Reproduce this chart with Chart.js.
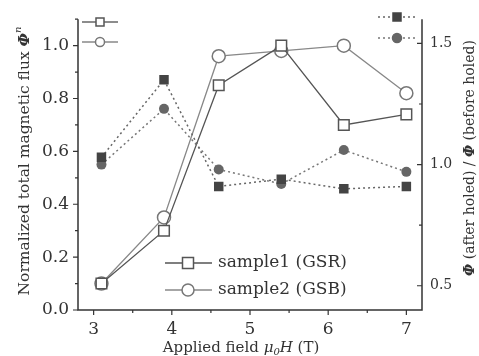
<!DOCTYPE html>
<html>
<head>
<meta charset="utf-8">
<script src="https://cdn.jsdelivr.net/npm/chart.js@4/dist/chart.umd.min.js"></script>
<style>
  body { margin: 0; background: #fff; }
  canvas { display: block; }
</style>
</head>
<body>
<canvas id="flux" width="479" height="356"></canvas>
<script>
// applied field (T)
const fields = [3.1, 3.9, 4.6, 5.4, 6.2, 7.0];
// normalized total flux (left axis)
const gsrFlux = [0.10, 0.30, 0.85, 1.00, 0.70, 0.74];
const gsbFlux = [0.10, 0.35, 0.96, 0.98, 1.00, 0.82];
// ratio after / before holed (right axis)
const gsrRatio = [1.03, 1.35, 0.91, 0.94, 0.90, 0.91];
const gsbRatio = [1.00, 1.23, 0.98, 0.92, 1.06, 0.97];

const xTicks = [3, 4, 5, 6, 7];
const leftTicks = [0, 0.2, 0.4, 0.6, 0.8, 1.0];
const rightTicks = [0.5, 1.0, 1.5];

const SERIF = "'DejaVu Serif', serif";
const AXIS = "#333";

const pts = (ys) => ys.map((y, i) => ({ x: fields[i], y }));

// draw text made of several runs (font, text, dy)
function drawRuns(ctx, runs, x, y, rot) {
  ctx.save();
  ctx.translate(x, y);
  ctx.rotate(rot);
  let total = 0;
  runs.forEach(r => { ctx.font = r.font; total += ctx.measureText(r.text).width; });
  let cx = -total / 2;
  ctx.textBaseline = "middle";
  ctx.textAlign = "left";
  runs.forEach(r => {
    ctx.font = r.font;
    ctx.fillText(r.text, cx, r.dy || 0);
    cx += ctx.measureText(r.text).width;
  });
  ctx.restore();
}

function marker(ctx, kind, x, y, s, fill, stroke) {
  ctx.save();
  ctx.lineWidth = 1.5;
  ctx.strokeStyle = stroke;
  ctx.fillStyle = fill;
  ctx.beginPath();
  if (kind === "rect") ctx.rect(x - s / 2, y - s / 2, s, s);
  else ctx.arc(x, y, s / 2, 0, Math.PI * 2);
  ctx.fill();
  ctx.stroke();
  ctx.restore();
}

function seg(ctx, x1, x2, y, color, dash) {
  ctx.save();
  ctx.strokeStyle = color;
  ctx.lineWidth = 1.3;
  ctx.setLineDash(dash || []);
  ctx.beginPath();
  ctx.moveTo(x1, y);
  ctx.lineTo(x2, y);
  ctx.stroke();
  ctx.restore();
}

const decor = {
  id: "decor",
  afterDraw(chart) {
    const ctx = chart.ctx;
    const a = chart.chartArea;
    const x = chart.scales.x, yl = chart.scales.y, yr = chart.scales.y2;

    // axis lines
    ctx.save();
    ctx.strokeStyle = AXIS;
    ctx.lineWidth = 1.5;
    ctx.beginPath();
    ctx.moveTo(a.left, a.top);
    ctx.lineTo(a.left, a.bottom);
    ctx.lineTo(a.right, a.bottom);
    ctx.lineTo(a.right, a.top);
    ctx.stroke();

    // ticks (major + minor)
    ctx.lineWidth = 1.2;
    ctx.beginPath();
    for (let k = 0; k <= 8; k++) {
      const px = x.getPixelForValue(3 + k * 0.5);
      ctx.moveTo(px, a.bottom);
      ctx.lineTo(px, a.bottom + (k % 2 === 0 ? 5 : 3));
    }
    for (let k = 0; k <= 11; k++) {
      const py = yl.getPixelForValue(k / 10);
      ctx.moveTo(a.left, py);
      ctx.lineTo(a.left - (k % 2 === 0 ? 5 : 3), py);
    }
    for (let k = 2; k <= 6; k++) {
      const py = yr.getPixelForValue(k * 0.25);
      ctx.moveTo(a.right, py);
      ctx.lineTo(a.right - (k % 2 === 0 ? 5 : 3), py);
    }
    ctx.stroke();
    ctx.restore();

    // axis titles
    ctx.fillStyle = "#333";
    drawRuns(ctx, [
      { font: "15px " + SERIF, text: "Applied field " },
      { font: "italic 15px " + SERIF, text: "\u03bc" },
      { font: "italic 10px " + SERIF, text: "0", dy: 4 },
      { font: "italic 15px " + SERIF, text: "H" },
      { font: "15px " + SERIF, text: " (T)" }
    ], 241, 348, 0);

    drawRuns(ctx, [
      { font: "15.5px " + SERIF, text: "Normalized total magnetic flux " },
      { font: "italic bold 15.5px " + SERIF, text: "\u03a6" },
      { font: "italic 10px " + SERIF, text: "n", dy: -7 }
    ], 25, 161, -Math.PI / 2);

    drawRuns(ctx, [
      { font: "italic bold 14px " + SERIF, text: "\u03a6" },
      { font: "14px " + SERIF, text: " (after holed) / " },
      { font: "italic bold 14px " + SERIF, text: "\u03a6" },
      { font: "14px " + SERIF, text: " (before holed)" }
    ], 470, 158, -Math.PI / 2);

    // inset keys
    seg(ctx, 82, 118, 22, "#666");
    marker(ctx, "rect", 100, 22, 8, "#fff", "#555");
    seg(ctx, 82, 118, 42, "#888");
    marker(ctx, "circle", 100, 42, 9, "#fff", "#777");
    seg(ctx, 378, 416, 17, "#666", [2, 3]);
    marker(ctx, "rect", 397, 17, 8, "#444", "#444");
    seg(ctx, 378, 416, 38, "#777", [2, 3]);
    marker(ctx, "circle", 397, 38, 9, "#666", "#666");

    // main legend
    seg(ctx, 165, 212, 263, "#555");
    marker(ctx, "rect", 188, 263, 11, "#fff", "#555");
    seg(ctx, 165, 212, 290, "#888");
    marker(ctx, "circle", 188, 290, 12, "#fff", "#777");
    ctx.fillStyle = "#333";
    ctx.font = "17px " + SERIF;
    ctx.textAlign = "left";
    ctx.textBaseline = "middle";
    ctx.fillText("sample1 (GSR)", 218, 263);
    ctx.fillText("sample2 (GSB)", 218, 290);
  }
};

new Chart(document.getElementById("flux"), {
  type: "line",
  data: {
    datasets: [
      {
        label: "GSR ratio", data: pts(gsrRatio), yAxisID: "y2",
        borderColor: "#666", borderWidth: 1.5, borderDash: [2, 3],
        pointStyle: "rect", pointRadius: 6.7, pointBackgroundColor: "#444",
        pointBorderColor: "#444", pointBorderWidth: 0
      },
      {
        label: "GSB ratio", data: pts(gsbRatio), yAxisID: "y2",
        borderColor: "#777", borderWidth: 1.5, borderDash: [2, 3],
        pointStyle: "circle", pointRadius: 5, pointBackgroundColor: "#666",
        pointBorderColor: "#666", pointBorderWidth: 0
      },
      {
        label: "sample1 (GSR)", data: pts(gsrFlux), yAxisID: "y",
        borderColor: "#555", borderWidth: 1.3,
        pointStyle: "rect", pointRadius: 7.5, pointBackgroundColor: "#fff",
        pointBorderColor: "#555", pointBorderWidth: 1.5
      },
      {
        label: "sample2 (GSB)", data: pts(gsbFlux), yAxisID: "y",
        borderColor: "#888", borderWidth: 1.3,
        pointStyle: "circle", pointRadius: 6.5, pointBackgroundColor: "#fff",
        pointBorderColor: "#777", pointBorderWidth: 1.5
      }
    ]
  },
  options: {
    responsive: false,
    animation: false,
    layout: { padding: { top: 10, left: 0, right: 0, bottom: 0 } },
    plugins: { legend: { display: false }, tooltip: { enabled: false } },
    elements: { line: { tension: 0 } },
    scales: {
      x: {
        type: "linear", min: 2.8, max: 7.2,
        grid: { display: false, drawTicks: false }, border: { display: false },
        afterBuildTicks: s => { s.ticks = xTicks.map(v => ({ value: v })); },
        afterFit: s => { s.height = 46; },
        ticks: { color: "#333", padding: 9, font: { family: SERIF, size: 17 },
                 callback: v => String(v) }
      },
      y: {
        position: "left", min: 0, max: 1.1,
        grid: { display: false, drawTicks: false }, border: { display: false },
        afterBuildTicks: s => { s.ticks = leftTicks.map(v => ({ value: v })); },
        afterFit: s => { s.width = 78; },
        ticks: { color: "#333", padding: 9, font: { family: SERIF, size: 17 },
                 callback: v => v.toFixed(1) }
      },
      y2: {
        position: "right", min: 0.4, max: 1.6,
        grid: { display: false, drawTicks: false }, border: { display: false },
        afterBuildTicks: s => { s.ticks = rightTicks.map(v => ({ value: v })); },
        afterFit: s => { s.width = 57; },
        ticks: { color: "#333", padding: 8, font: { family: SERIF, size: 14 },
                 callback: v => v.toFixed(1) }
      }
    }
  },
  plugins: [decor]
});
</script>
</body>
</html>
